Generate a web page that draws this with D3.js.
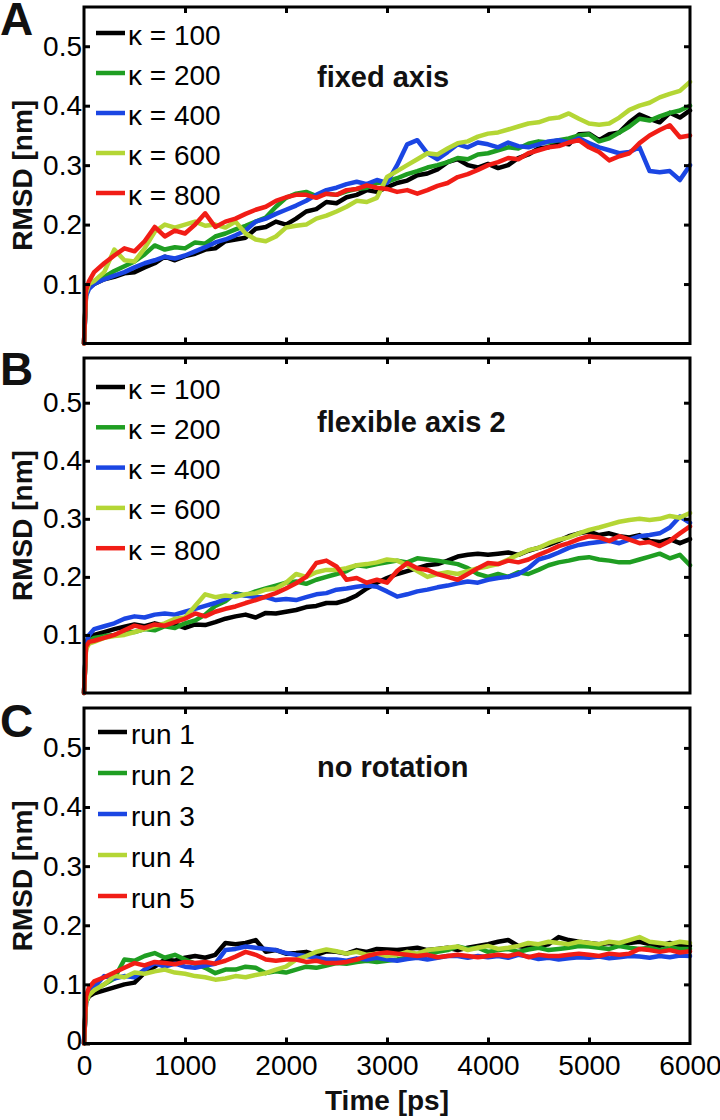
<!DOCTYPE html>
<html><head><meta charset="utf-8">
<script src="https://cdn.jsdelivr.net/npm/d3@7"></script>
<style>body{margin:0;background:#fff}svg{display:block}</style>
</head><body><svg id="c" width="720" height="1120"></svg>
<script>
// ---------- data ----------
const timePs = [0, 20, 50,
  100, 200, 300, 400, 500, 600, 700, 800, 900, 1000,
  1100, 1200, 1300, 1400, 1500, 1600, 1700, 1800, 1900, 2000,
  2100, 2200, 2300, 2400, 2500, 2600, 2700, 2800, 2900, 3000,
  3100, 3200, 3300, 3400, 3500, 3600, 3700, 3800, 3900, 4000,
  4100, 4200, 4300, 4400, 4500, 4600, 4700, 4800, 4900, 5000,
  5100, 5200, 5300, 5400, 5500, 5600, 5700, 5800, 5900, 6000];

const xTickValues = [0, 1000, 2000, 3000, 4000, 5000, 6000];
const yTickValues = [0, 0.1, 0.2, 0.3, 0.4, 0.5];
const panelLetters = ["A", "B", "C"];
const panelTitles = ["fixed axis", "flexible axis 2", "no rotation"];
const kappaLabels = ["\u03BA = 100", "\u03BA = 200", "\u03BA = 400", "\u03BA = 600", "\u03BA = 800"];
const runLabels = ["run 1", "run 2", "run 3", "run 4", "run 5"];
const seriesColors = ["#000000", "#1f9e22", "#1b46e3", "#b4d635", "#f11d16"];

// Panel A: fixed axis
const fixed_k100 = [0, 0.082, 0.095,
  0.1, 0.108, 0.112, 0.118, 0.12, 0.128, 0.135, 0.146, 0.14, 0.147,
  0.151, 0.158, 0.16, 0.172, 0.175, 0.178, 0.193, 0.196, 0.205, 0.2,
  0.21, 0.222, 0.226, 0.238, 0.236, 0.246, 0.25, 0.258, 0.255, 0.263,
  0.27, 0.274, 0.283, 0.286, 0.293, 0.305, 0.31, 0.3, 0.296, 0.302,
  0.295, 0.3, 0.312, 0.318, 0.328, 0.33, 0.338, 0.335, 0.352, 0.353,
  0.342, 0.352, 0.355, 0.372, 0.385, 0.378, 0.372, 0.388, 0.38, 0.392];
const fixed_k200 = [0, 0.085, 0.098,
  0.105, 0.112, 0.122, 0.13, 0.138, 0.15, 0.165, 0.158, 0.162, 0.16,
  0.17, 0.168, 0.18, 0.185, 0.192, 0.198, 0.205, 0.212, 0.23, 0.245,
  0.252, 0.255, 0.248, 0.252, 0.25, 0.256, 0.26, 0.262, 0.27, 0.272,
  0.278, 0.285, 0.29, 0.296, 0.3, 0.305, 0.312, 0.31, 0.318, 0.32,
  0.325, 0.33, 0.328, 0.336, 0.34, 0.338, 0.342, 0.345, 0.35, 0.352,
  0.34, 0.345, 0.355, 0.365, 0.378, 0.375, 0.382, 0.388, 0.392, 0.4];
const fixed_k400 = [0, 0.08, 0.092,
  0.1, 0.108, 0.114, 0.12, 0.128, 0.135, 0.14, 0.146, 0.143, 0.148,
  0.155, 0.162, 0.17, 0.175, 0.182, 0.19, 0.205, 0.21, 0.218, 0.225,
  0.232, 0.24, 0.25, 0.258, 0.262, 0.268, 0.272, 0.268, 0.275, 0.27,
  0.3, 0.335, 0.342, 0.32, 0.31, 0.322, 0.335, 0.33, 0.338, 0.335,
  0.33, 0.338, 0.332, 0.33, 0.335, 0.34, 0.342, 0.338, 0.345, 0.337,
  0.33, 0.325, 0.32, 0.322, 0.33, 0.29, 0.288, 0.29, 0.275, 0.3];
const fixed_k600 = [0, 0.085, 0.1,
  0.105, 0.12, 0.158, 0.14, 0.138, 0.16, 0.188, 0.2, 0.195, 0.2,
  0.205, 0.198, 0.2, 0.195, 0.205, 0.185, 0.175, 0.172, 0.18, 0.195,
  0.198, 0.2, 0.21, 0.215, 0.222, 0.23, 0.24, 0.238, 0.245, 0.28,
  0.29, 0.3, 0.31, 0.32, 0.318, 0.328, 0.337, 0.34, 0.348, 0.353,
  0.355, 0.36, 0.365, 0.37, 0.372, 0.378, 0.38, 0.387, 0.378, 0.37,
  0.368, 0.37, 0.38, 0.393, 0.4, 0.405, 0.414, 0.42, 0.425, 0.44];
const fixed_k800 = [0, 0.09, 0.105,
  0.12, 0.135, 0.148, 0.16, 0.155, 0.172, 0.196, 0.18, 0.19, 0.185,
  0.2, 0.219, 0.196, 0.205, 0.21, 0.218, 0.225, 0.23, 0.24, 0.246,
  0.25, 0.25, 0.245, 0.252, 0.25, 0.258, 0.26, 0.266, 0.262, 0.26,
  0.255, 0.258, 0.252, 0.258, 0.265, 0.27, 0.28, 0.285, 0.292, 0.3,
  0.305, 0.312, 0.31, 0.32, 0.325, 0.33, 0.332, 0.338, 0.342, 0.33,
  0.322, 0.308, 0.315, 0.32, 0.337, 0.35, 0.359, 0.367, 0.347, 0.35];

// Panel B: flexible axis 2
const flex_k100 = [0, 0.08, 0.09,
  0.1, 0.105, 0.11, 0.114, 0.118, 0.115, 0.12, 0.116, 0.118, 0.112,
  0.118, 0.117, 0.122, 0.128, 0.132, 0.135, 0.13, 0.138, 0.137, 0.14,
  0.143, 0.148, 0.15, 0.155, 0.155, 0.16, 0.168, 0.18, 0.19, 0.198,
  0.205, 0.21, 0.215, 0.22, 0.222, 0.228, 0.235, 0.238, 0.24, 0.238,
  0.24, 0.242, 0.238, 0.245, 0.25, 0.255, 0.262, 0.27, 0.275, 0.278,
  0.272, 0.275, 0.27, 0.268, 0.272, 0.262, 0.26, 0.265, 0.258, 0.265];
const flex_k200 = [0, 0.08, 0.09,
  0.095, 0.098, 0.1, 0.104, 0.105, 0.11, 0.108, 0.115, 0.112, 0.12,
  0.125, 0.135, 0.15, 0.158, 0.172, 0.168, 0.175, 0.18, 0.185, 0.19,
  0.192, 0.188, 0.195, 0.2, 0.205, 0.21, 0.22, 0.218, 0.222, 0.225,
  0.228, 0.225, 0.232, 0.23, 0.228, 0.225, 0.222, 0.215, 0.205, 0.2,
  0.205, 0.2, 0.208, 0.205, 0.212, 0.22, 0.225, 0.228, 0.232, 0.234,
  0.23, 0.228, 0.225, 0.225, 0.23, 0.235, 0.24, 0.232, 0.238, 0.22];
const flex_k400 = [0, 0.085, 0.1,
  0.11, 0.115, 0.12, 0.128, 0.132, 0.13, 0.135, 0.137, 0.135, 0.14,
  0.145, 0.15, 0.155, 0.162, 0.17, 0.168, 0.165, 0.165, 0.16, 0.162,
  0.16, 0.165, 0.17, 0.172, 0.178, 0.18, 0.183, 0.185, 0.183, 0.175,
  0.166, 0.17, 0.175, 0.178, 0.182, 0.185, 0.189, 0.192, 0.19, 0.195,
  0.198, 0.2, 0.205, 0.215, 0.23, 0.235, 0.242, 0.25, 0.255, 0.258,
  0.26, 0.262, 0.258, 0.264, 0.27, 0.272, 0.275, 0.285, 0.304, 0.293];
const flex_k600 = [0, 0.075, 0.085,
  0.088, 0.095, 0.098, 0.1, 0.105, 0.11, 0.115, 0.12, 0.128, 0.13,
  0.15, 0.17, 0.165, 0.168, 0.166, 0.17, 0.172, 0.178, 0.18, 0.19,
  0.205, 0.2, 0.208, 0.212, 0.212, 0.215, 0.22, 0.222, 0.225, 0.23,
  0.228, 0.22, 0.21, 0.2, 0.205, 0.208, 0.205, 0.21, 0.215, 0.218,
  0.222, 0.23, 0.238, 0.246, 0.25, 0.258, 0.264, 0.268, 0.275, 0.281,
  0.285, 0.29, 0.295, 0.298, 0.3, 0.298, 0.3, 0.305, 0.302, 0.31];
const flex_k800 = [0, 0.08, 0.088,
  0.09, 0.095, 0.1, 0.108, 0.116, 0.112, 0.118, 0.116, 0.122, 0.128,
  0.137, 0.132, 0.14, 0.145, 0.149, 0.155, 0.16, 0.166, 0.172, 0.18,
  0.189, 0.2, 0.224, 0.228, 0.218, 0.195, 0.198, 0.19, 0.195, 0.19,
  0.21, 0.224, 0.215, 0.212, 0.205, 0.2, 0.195, 0.205, 0.215, 0.224,
  0.222, 0.228, 0.225, 0.23, 0.238, 0.245, 0.253, 0.258, 0.265, 0.27,
  0.268, 0.262, 0.27, 0.264, 0.258, 0.26, 0.253, 0.262, 0.275, 0.287];

// Panel C: no rotation
const norot_run1 = [0, 0.07, 0.08,
  0.085, 0.09, 0.095, 0.1, 0.103, 0.12, 0.13, 0.142, 0.14, 0.145,
  0.148, 0.145, 0.15, 0.17, 0.168, 0.17, 0.175, 0.155, 0.158, 0.152,
  0.153, 0.155, 0.15, 0.156, 0.155, 0.152, 0.158, 0.155, 0.16, 0.159,
  0.158, 0.16, 0.162, 0.158, 0.16, 0.162, 0.158, 0.162, 0.165, 0.168,
  0.172, 0.175, 0.165, 0.162, 0.165, 0.168, 0.18, 0.175, 0.172, 0.17,
  0.168, 0.17, 0.166, 0.17, 0.172, 0.168, 0.165, 0.17, 0.166, 0.165];
const norot_run2 = [0, 0.075, 0.085,
  0.09, 0.1, 0.11, 0.142, 0.14, 0.148, 0.153, 0.145, 0.15, 0.142,
  0.135, 0.128, 0.119, 0.125, 0.125, 0.13, 0.128, 0.119, 0.122, 0.12,
  0.125, 0.13, 0.128, 0.132, 0.136, 0.135, 0.138, 0.14, 0.138, 0.14,
  0.142, 0.145, 0.148, 0.15, 0.155, 0.158, 0.164, 0.16, 0.162, 0.155,
  0.158, 0.16, 0.155, 0.159, 0.162, 0.158, 0.16, 0.162, 0.165, 0.164,
  0.162, 0.16, 0.165, 0.162, 0.16, 0.162, 0.158, 0.162, 0.16, 0.16];
const norot_run3 = [0, 0.07, 0.085,
  0.095, 0.114, 0.11, 0.114, 0.112, 0.125, 0.136, 0.13, 0.135, 0.13,
  0.128, 0.132, 0.135, 0.158, 0.16, 0.164, 0.162, 0.16, 0.158, 0.153,
  0.15, 0.148, 0.145, 0.142, 0.142, 0.14, 0.144, 0.142, 0.145, 0.142,
  0.14, 0.143, 0.145, 0.142, 0.145, 0.148, 0.148, 0.145, 0.148, 0.146,
  0.148, 0.145, 0.15, 0.147, 0.143, 0.145, 0.142, 0.144, 0.146, 0.145,
  0.147, 0.144, 0.146, 0.148, 0.147, 0.145, 0.148, 0.146, 0.149, 0.148];
const norot_run4 = [0, 0.07, 0.082,
  0.09, 0.1, 0.114, 0.112, 0.12, 0.118, 0.122, 0.125, 0.12, 0.118,
  0.114, 0.112, 0.108, 0.11, 0.114, 0.112, 0.116, 0.119, 0.125, 0.13,
  0.142, 0.148, 0.155, 0.159, 0.156, 0.152, 0.155, 0.15, 0.152, 0.148,
  0.15, 0.155, 0.152, 0.158, 0.16, 0.162, 0.164, 0.158, 0.162, 0.165,
  0.16, 0.162, 0.165, 0.17, 0.168, 0.172, 0.17, 0.168, 0.172, 0.17,
  0.168, 0.172, 0.17, 0.175, 0.18, 0.172, 0.17, 0.168, 0.172, 0.17];
const norot_run5 = [0, 0.08, 0.095,
  0.105, 0.112, 0.12, 0.128, 0.136, 0.132, 0.138, 0.136, 0.134, 0.138,
  0.136, 0.138, 0.135, 0.14, 0.147, 0.155, 0.15, 0.142, 0.14, 0.142,
  0.142, 0.138, 0.14, 0.136, 0.136, 0.138, 0.142, 0.148, 0.152, 0.154,
  0.152, 0.15, 0.148, 0.15, 0.146, 0.148, 0.15, 0.148, 0.146, 0.148,
  0.15, 0.148, 0.152, 0.146, 0.15, 0.148, 0.148, 0.15, 0.152, 0.15,
  0.148, 0.152, 0.15, 0.152, 0.16, 0.158, 0.155, 0.158, 0.154, 0.156];

// ---------- layout ----------
const FONT = "'Liberation Sans', Arial, Helvetica, sans-serif";
const plotLeft = 84, plotRight = 690;
const panels = [
  {top: 7,   bottom: 343.5, yMax: 0.566, letterY: 35,  titleY: 87,  legendY: 33,  legendStep: 40,  labels: kappaLabels,
   series: [fixed_k100, fixed_k200, fixed_k400, fixed_k600, fixed_k800], showZero: false, showX: false, lineX0: 96, textX: 128},
  {top: 358, bottom: 693,   yMax: 0.577, letterY: 385, titleY: 432, legendY: 387, legendStep: 40.3, labels: kappaLabels,
   series: [flex_k100, flex_k200, flex_k400, flex_k600, flex_k800], showZero: false, showX: false, lineX0: 96, textX: 128},
  {top: 708, bottom: 1043.5, yMax: 0.5675, letterY: 737, titleY: 777, legendY: 732, legendStep: 41, labels: runLabels,
   series: [norot_run1, norot_run2, norot_run3, norot_run4, norot_run5], showZero: true, showX: true, lineX0: 98, textX: 131}
];

const svg = d3.select("#c");
svg.append("rect").attr("width", 720).attr("height", 1120).attr("fill", "#fff");
const x = d3.scaleLinear().domain([0, 6000]).range([plotLeft, plotRight]);

panels.forEach((p, pi) => {
  const y = d3.scaleLinear().domain([0, p.yMax]).range([p.bottom, p.top]);
  const g = svg.append("g");

  // data lines
  const line = d3.line().x((d, i) => x(timePs[i])).y(d => y(d));
  p.series.forEach((s, si) => {
    g.append("path").datum(s).attr("d", line)
      .attr("fill", "none").attr("stroke", seriesColors[si])
      .attr("stroke-width", 4.5).attr("stroke-linejoin", "round").attr("stroke-linecap", "round");
  });

  // frame
  g.append("rect").attr("x", plotLeft).attr("y", p.top)
    .attr("width", plotRight - plotLeft).attr("height", p.bottom - p.top)
    .attr("fill", "none").attr("stroke", "#000").attr("stroke-width", 3);

  const yt = p.showZero ? yTickValues : yTickValues.filter(v => v > 0);
  const styleAxis = sel => {
    sel.select(".domain").remove();
    sel.selectAll(".tick line").attr("stroke", "#000").attr("stroke-width", 3);
    sel.selectAll(".tick text").attr("fill", "#000").style("font-family", FONT).style("font-size", "28px");
  };
  g.append("g").attr("transform", `translate(${plotLeft},0)`)
    .call(d3.axisLeft(y).tickValues(yt).tickSizeInner(-6).tickSizeOuter(0).tickPadding(2).tickFormat(d => d === 0 ? "0" : d3.format(".1f")(d)))
    .call(styleAxis)
    .call(sel => sel.selectAll(".tick").filter(d => d === 0).select("text").attr("dy", "0.2em"));
  g.append("g").attr("transform", `translate(${plotRight},0)`)
    .call(d3.axisRight(y).tickValues(yTickValues.filter(v => v > 0)).tickSizeInner(-6).tickSizeOuter(0).tickFormat(""))
    .call(styleAxis);
  g.append("g").attr("transform", `translate(0,${p.top})`)
    .call(d3.axisTop(x).tickValues(xTickValues.slice(1, -1)).tickSizeInner(-6).tickSizeOuter(0).tickFormat(""))
    .call(styleAxis);
  g.append("g").attr("transform", `translate(0,${p.bottom})`)
    .call(d3.axisBottom(x).tickValues(p.showX ? xTickValues : xTickValues.slice(1, -1)).tickSizeInner(-6).tickSizeOuter(0).tickPadding(12)
      .tickFormat(p.showX ? d3.format("d") : ""))
    .call(styleAxis)
    .call(sel => sel.selectAll(".tick").filter(d => d === 0 || d === 6000).select("line").remove());

  // y axis title
  g.append("text").attr("transform", `translate(32,${(p.top + p.bottom) / 2}) rotate(-90)`)
    .attr("text-anchor", "middle").style("font-family", FONT).style("font-size", "28px").style("font-weight", "bold")
    .attr("fill", "#111").text("RMSD [nm]");

  // panel letter
  g.append("text").attr("x", 0).attr("y", p.letterY).style("font-family", FONT).style("font-size", "46px")
    .style("font-weight", "bold").attr("fill", "#111").text(panelLetters[pi]);

  // panel title
  g.append("text").attr("x", 317).attr("y", p.titleY).style("font-family", FONT).style("font-size", "29px")
    .style("font-weight", "bold").attr("fill", "#111").text(panelTitles[pi]);

  // legend
  p.labels.forEach((lab, li) => {
    const ly = p.legendY + li * p.legendStep;
    g.append("line").attr("x1", p.lineX0).attr("x2", p.lineX0 + 29).attr("y1", ly).attr("y2", ly)
      .attr("stroke", seriesColors[li]).attr("stroke-width", 4.5);
    g.append("text").attr("x", p.textX).attr("y", ly + 11.5).style("font-family", FONT).style("font-size", "28px")
      .attr("fill", "#000").text(lab);
  });
});

// x axis title
svg.append("text").attr("x", (plotLeft + plotRight) / 2).attr("y", 1110).attr("text-anchor", "middle")
  .style("font-family", FONT).style("font-size", "28px").style("font-weight", "bold").attr("fill", "#111").text("Time [ps]");
</script>
</body></html>
